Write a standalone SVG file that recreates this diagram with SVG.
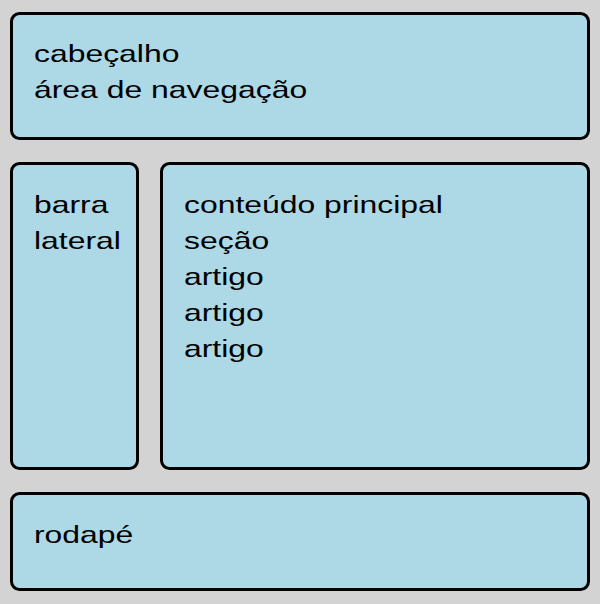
<svg xmlns="http://www.w3.org/2000/svg" width="600" height="604" viewBox="0 0 600 604">
<style>
.box{fill:#add8e6;stroke:#000;stroke-width:3}
text{font-family:"Liberation Sans",Arial,sans-serif;font-size:24px;fill:#000}
</style>
<rect x="0" y="0" width="600" height="604" fill="#d3d3d3"/>
<g id="header">
<rect class="box" x="11.5" y="13.5" width="577" height="125" rx="8"/>
<g transform="translate(34 0) scale(1.33 1)">
<text x="0" y="62">cabeçalho</text>
<text x="0" y="98">área de navegação</text>
</g>
</g>
<g id="sidebar">
<rect class="box" x="11.5" y="163.5" width="126" height="305" rx="8"/>
<g transform="translate(34 0) scale(1.33 1)">
<text x="0" y="213">barra</text>
<text x="0" y="249">lateral</text>
</g>
</g>
<g id="main">
<rect class="box" x="161.5" y="163.5" width="427" height="305" rx="8"/>
<g transform="translate(184 0) scale(1.33 1)">
<text x="0" y="213">conteúdo principal</text>
<text x="0" y="249">seção</text>
<text x="0" y="285">artigo</text>
<text x="0" y="321">artigo</text>
<text x="0" y="357">artigo</text>
</g>
</g>
<g id="footer">
<rect class="box" x="11.5" y="493.5" width="577" height="96" rx="8"/>
<g transform="translate(34 0) scale(1.33 1)">
<text x="0" y="543">rodapé</text>
</g>
</g>
<g id="connectors"/>
</svg>
